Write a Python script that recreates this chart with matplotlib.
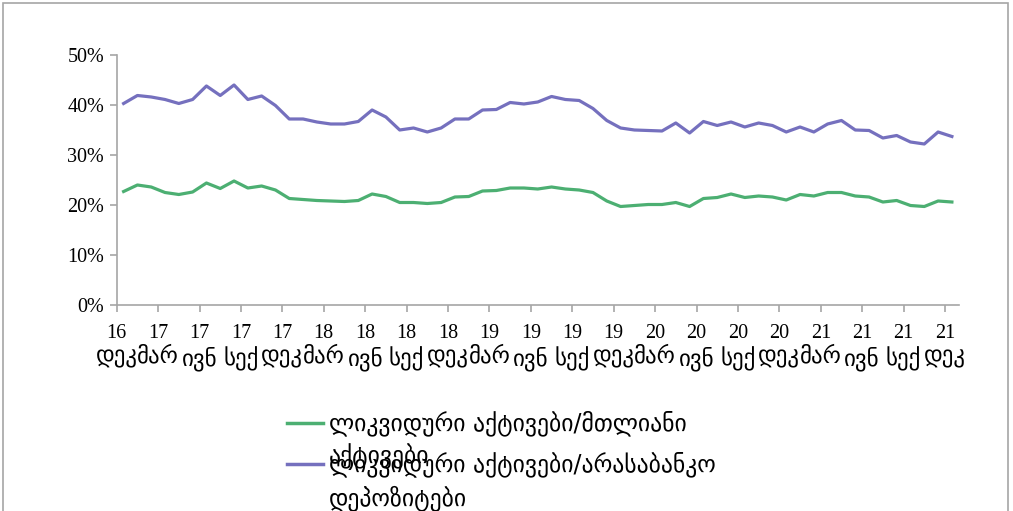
import matplotlib.pyplot as plt
from matplotlib.lines import Line2D
from matplotlib.patches import Rectangle
from matplotlib.ticker import PercentFormatter

# monthly values, Dec 2016 - Dec 2021
liquid_total = [0.227, 0.240, 0.236, 0.225, 0.221, 0.226, 0.244, 0.233, 0.248, 0.234,
                0.238, 0.230, 0.213, 0.211, 0.209, 0.208, 0.207, 0.209, 0.222, 0.217,
                0.205, 0.205, 0.203, 0.205, 0.216, 0.217, 0.228, 0.229, 0.234, 0.234,
                0.232, 0.236, 0.232, 0.230, 0.225, 0.208, 0.197, 0.199, 0.201, 0.201,
                0.205, 0.197, 0.213, 0.215, 0.222, 0.215, 0.218, 0.216, 0.210, 0.221,
                0.218, 0.225, 0.225, 0.218, 0.216, 0.206, 0.209, 0.199, 0.197, 0.208,
                0.206]
liquid_deposits = [0.403, 0.419, 0.416, 0.411, 0.403, 0.411, 0.438, 0.419, 0.440, 0.411,
                   0.418, 0.399, 0.372, 0.372, 0.366, 0.362, 0.362, 0.367, 0.390, 0.376,
                   0.350, 0.354, 0.346, 0.354, 0.372, 0.372, 0.390, 0.391, 0.405, 0.402,
                   0.406, 0.417, 0.411, 0.409, 0.393, 0.369, 0.354, 0.350, 0.349, 0.348,
                   0.364, 0.344, 0.367, 0.359, 0.366, 0.356, 0.364, 0.359, 0.346, 0.356,
                   0.346, 0.362, 0.369, 0.350, 0.349, 0.334, 0.339, 0.326, 0.322, 0.346,
                   0.337]

years = ["16", "17", "17", "17", "17", "18", "18", "18", "18", "19", "19",
         "19", "19", "20", "20", "20", "20", "21", "21", "21", "21"]
months = ["დეკ", "მარ", "ივნ", "სექ"] * 5 + ["დეკ"]

labels = ["ლიკვიდური აქტივები/მთლიანი\nაქტივები",
          "ლიკვიდური აქტივები/არასაბანკო\nდეპოზიტები"]
colors = ["#4caf72", "#7570be"]

plt.rcParams["font.family"] = ["Liberation Serif", "DejaVu Sans"]

fig = plt.figure(figsize=(10.13, 5.11), dpi=100)
ax = fig.add_axes([0.1152, 0.4031, 0.8313, 0.4893])

x = list(range(len(liquid_total)))
ax.plot(x, liquid_total, color=colors[0], lw=2.3, solid_joinstyle="round")
ax.plot(x, liquid_deposits, color=colors[1], lw=2.3, solid_joinstyle="round")

ax.set_xlim(-0.5, len(x) - 0.5)
ax.set_ylim(0, 0.5)
ax.set_yticks([0, 0.1, 0.2, 0.3, 0.4, 0.5])
ax.yaxis.set_major_formatter(PercentFormatter(1.0, decimals=0))

# years as major labels, month names as a second row of minor labels
pos = [i * 3 - 0.5 for i in range(len(years))]
ax.xaxis.remove_overlapping_locs = False
ax.set_xticks(pos)
ax.set_xticklabels(years)
ax.set_xticks(pos, minor=True)
ax.set_xticklabels(months, minor=True)

for s in ["top", "right"]:
    ax.spines[s].set_visible(False)
for s in ["left", "bottom"]:
    ax.spines[s].set_color("#a6a6a6")
    ax.spines[s].set_linewidth(1.2)
ax.tick_params(axis="both", colors="#a6a6a6", labelcolor="black",
               labelsize=14.5, length=5, width=1.2)
ax.tick_params(axis="x", which="major", pad=9)
ax.tick_params(axis="x", which="minor", length=0, pad=30, labelsize=16.5)
ax.tick_params(axis="y", pad=4)

# legend drawn by hand to keep the overlapping look
for k, (lab, c) in enumerate(zip(labels, colors)):
    yy = 1 - (423 + 41 * k) / 511
    fig.add_artist(Line2D([0.283, 0.319], [yy, yy], color=c, lw=2.5,
                          transform=fig.transFigure))
    fig.text(0.325, yy + 0.025, lab, fontsize=17, va="top", ha="left",
             linespacing=1.4, family=["DejaVu Sans"])

fig.add_artist(Rectangle((0.003, -0.01), 0.992, 1.004, fill=False,
                         edgecolor="#a6a6a6", lw=1.2, transform=fig.transFigure))

fig.savefig("out.png", dpi=100)
